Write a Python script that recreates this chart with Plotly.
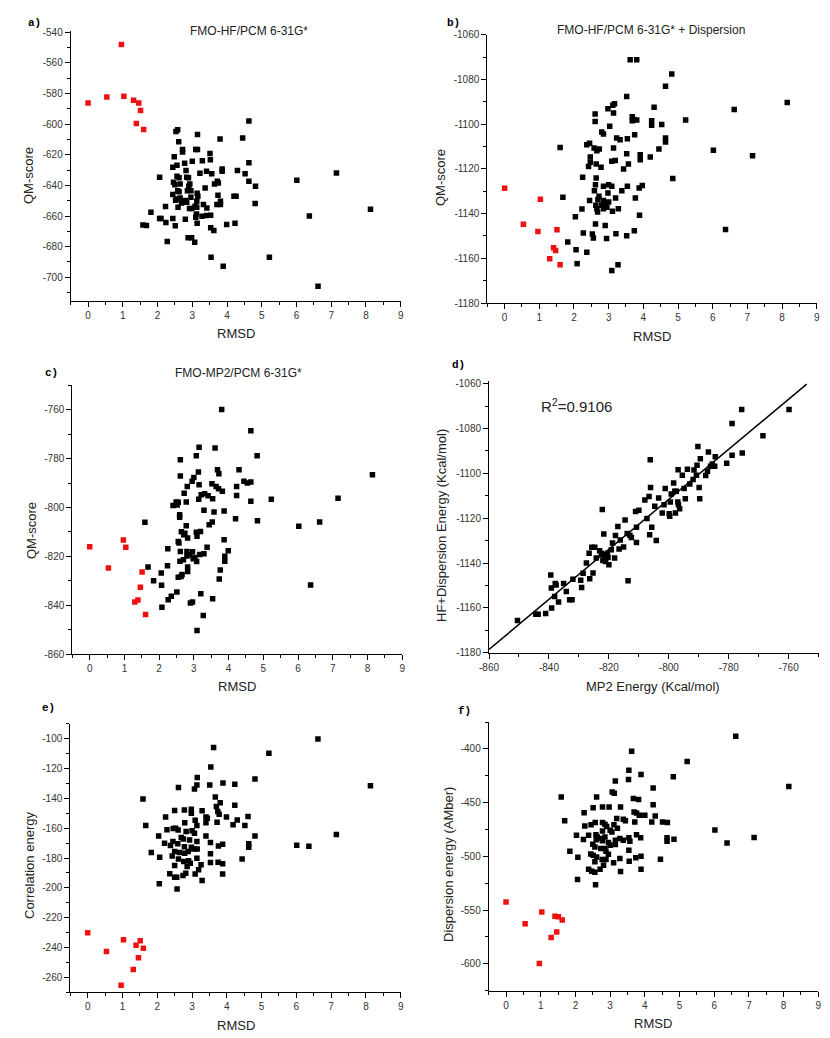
import numpy as np
import plotly.graph_objects as go

W, H = 830, 1038

# ---------------- data ----------------
a_black = [(4.63,-597.9),(2.53,-604.8),(2.58,-603.7),(3.15,-606.8),(2.61,-611.4),(3.80,-609.6),(4.45,-609.0),
    (2.72,-616.6),(2.72,-618.1),(3.10,-616.6),(3.15,-616.6),(2.48,-621.2),(3.51,-619.2),(3.52,-623.3),(3.00,-624.2),
    (3.29,-623.8),(4.63,-625.1),(2.44,-628.1),(2.56,-626.8),(2.78,-625.5),(2.82,-630.3),(3.86,-629.2),(3.86,-630.7),
    (4.30,-630.3),(3.22,-632.0),(3.41,-630.7),(3.56,-632.3),(4.52,-632.3),(7.15,-631.8),(2.56,-634.0),(2.62,-635.0),
    (2.06,-634.7),(2.84,-634.7),(2.89,-635.0),(4.63,-637.3),(6.01,-636.6),(3.72,-637.3),(3.75,-638.4),(2.46,-637.9),
    (2.50,-639.5),(2.65,-639.0),(2.93,-639.0),(2.90,-640.5),(3.37,-641.6),(3.64,-639.0),(4.82,-640.5),(2.58,-643.4),
    (2.62,-644.2),(2.86,-643.4),(2.96,-643.4),(2.44,-646.0),(3.14,-645.1),(3.16,-647.1),(3.74,-646.4),(4.20,-647.1),
    (4.26,-647.1),(2.55,-648.8),(2.65,-648.2),(2.80,-649.9),(2.96,-647.7),(3.13,-650.3),(3.81,-650.3),(3.81,-652.5),
    (3.71,-652.5),(4.81,-651.8),(2.52,-649.7),(2.69,-651.4),(2.84,-651.0),(2.77,-651.0),(3.32,-652.5),(3.08,-653.6),
    (3.13,-654.2),(2.59,-654.2),(3.42,-654.7),(2.23,-653.8),(2.92,-655.1),(2.98,-655.1),(3.28,-660.1),(3.41,-659.7),
    (3.53,-659.5),(3.12,-658.6),(3.10,-660.8),(1.81,-657.5),(2.06,-661.6),(2.10,-661.6),(2.44,-661.6),(2.80,-662.1),
    (2.24,-664.2),(3.14,-664.7),(3.99,-665.6),(4.23,-664.7),(1.58,-665.8),(1.68,-666.2),(2.51,-666.4),(3.53,-667.7),
    (3.62,-669.5),(6.37,-659.9),(8.13,-655.5),(2.28,-676.7),(2.88,-674.1),(2.98,-674.1),(3.07,-677.1),(3.54,-686.9),
    (5.22,-686.9),(3.89,-692.8),(6.62,-705.8)]
a_red = [(0.00,-586.1),(0.54,-582.2),(0.96,-548.0),(1.03,-581.8),(1.31,-584.4),(1.46,-586.1),(1.51,-591.1),
    (1.39,-599.6),(1.60,-603.5)]

b_black = [(3.62,-1071.2),(3.81,-1071.2),(4.82,-1077.6),(4.64,-1083.1),(3.52,-1087.6),(8.15,-1090.3),(4.31,-1092.5),
    (2.98,-1093.1),(3.12,-1091.6),(3.17,-1090.9),(3.14,-1095.0),(2.61,-1095.5),(6.62,-1093.5),(5.22,-1098.2),
    (2.61,-1098.8),(3.68,-1096.7),(3.72,-1097.9),(3.68,-1098.5),(3.81,-1098.1),(4.24,-1098.5),(4.24,-1100.5),
    (4.53,-1100.2),(3.03,-1101.0),(2.80,-1103.5),(2.85,-1104.4),(3.75,-1104.7),(3.23,-1106.2),(3.33,-1107.0),
    (3.54,-1106.5),(4.64,-1106.2),(4.64,-1108.0),(2.45,-1108.5),(2.37,-1109.2),(2.58,-1110.7),(2.73,-1111.1),
    (2.66,-1111.9),(3.14,-1110.7),(1.60,-1110.4),(4.45,-1111.1),(6.02,-1111.7),(7.15,-1114.1),(3.52,-1113.2),
    (3.91,-1113.7),(3.91,-1115.9),(4.20,-1114.7),(2.47,-1114.7),(2.47,-1117.0),(2.64,-1117.8),(3.09,-1116.6),
    (3.19,-1116.3),(3.57,-1117.8),(2.42,-1118.9),(2.78,-1119.3),(3.43,-1120.1),(2.25,-1123.8),(2.64,-1124.1),
    (4.85,-1124.3),(2.62,-1127.1),(3.00,-1127.1),(3.09,-1127.8),(2.85,-1127.8),(3.54,-1127.8),(3.97,-1127.4),
    (3.88,-1128.6),(2.59,-1129.8),(3.38,-1129.8),(2.98,-1130.8),(2.72,-1132.3),(2.69,-1133.8),(1.68,-1132.7),
    (3.20,-1133.0),(3.77,-1133.0),(2.45,-1134.1),(2.85,-1134.2),(2.90,-1135.5),(2.80,-1136.3),(2.88,-1137.0),
    (2.95,-1137.2),(2.63,-1136.3),(3.00,-1134.8),(2.85,-1137.8),(2.66,-1137.8),(2.23,-1138.0),(3.28,-1137.8),
    (3.11,-1139.0),(2.68,-1139.3),(2.04,-1141.4),(3.89,-1140.8),(2.62,-1144.7),(2.90,-1145.3),(6.37,-1147.1),
    (3.74,-1147.7),(2.27,-1148.7),(2.53,-1149.1),(2.56,-1150.9),(3.21,-1149.0),(3.52,-1149.9),(2.94,-1151.2),
    (1.82,-1152.7),(2.06,-1156.2),(2.37,-1157.3),(2.09,-1162.4),(3.27,-1162.9),(3.09,-1165.5)]
b_red = [(0.00,-1128.7),(0.54,-1144.8),(1.03,-1133.6),(0.96,-1148.0),(1.30,-1160.2),(1.41,-1155.3),(1.47,-1156.5),
    (1.51,-1147.2),(1.60,-1162.9)]

c_black = [(3.80,-759.9),(4.64,-768.6),(4.82,-778.8),(3.15,-775.4),(3.61,-775.7),(3.07,-778.8),(2.61,-780.5),
    (4.30,-784.6),(3.68,-784.6),(3.72,-786.2),(3.13,-785.5),(8.14,-786.6),(2.61,-787.1),(3.00,-787.7),(2.95,-789.3),
    (4.44,-789.3),(4.54,-790.0),(4.64,-789.6),(3.52,-790.3),(3.15,-790.7),(2.81,-791.4),(4.23,-791.4),(3.64,-791.4),
    (3.71,-792.4),(3.82,-793.4),(2.72,-794.2),(3.21,-794.8),(3.31,-794.4),(3.41,-795.2),(4.23,-795.1),(3.54,-796.4),
    (3.14,-796.6),(5.23,-796.6),(7.15,-796.2),(2.49,-797.8),(2.40,-799.2),(2.52,-799.0),(2.55,-797.9),(2.78,-797.8),
    (4.64,-797.5),(3.29,-801.2),(3.58,-801.9),(3.87,-801.5),(2.59,-803.0),(2.59,-804.0),(4.20,-804.6),(3.53,-806.0),
    (3.44,-807.1),(1.59,-806.1),(4.83,-805.4),(6.62,-806.0),(6.02,-807.7),(2.78,-807.5),(2.64,-810.0),(2.74,-810.6),
    (2.71,-811.2),(3.07,-810.2),(3.09,-811.8),(3.19,-809.8),(2.82,-812.5),(3.87,-813.2),(2.55,-813.9),(2.57,-814.6),
    (3.38,-816.3),(2.25,-816.9),(2.80,-818.0),(2.96,-818.1),(2.88,-819.4),(2.80,-819.9),(2.98,-821.0),(3.08,-822.1),
    (3.03,-820.5),(3.99,-817.7),(3.89,-820.0),(3.89,-822.0),(2.61,-818.0),(3.17,-819.3),(3.29,-819.0),(2.60,-822.0),
    (2.70,-821.4),(2.24,-823.9),(1.68,-824.4),(2.82,-824.4),(2.82,-826.2),(3.76,-825.6),(2.06,-826.8),(2.66,-827.5),
    (2.55,-828.6),(2.63,-828.3),(3.73,-829.3),(1.84,-830.0),(2.07,-831.9),(6.36,-831.8),(2.51,-834.6),(3.20,-835.3),
    (3.54,-837.4),(2.35,-836.4),(2.26,-837.8),(2.90,-839.1),(2.96,-838.7),(2.08,-840.9),(3.27,-844.2),(3.09,-850.4)]
c_red = [(0.00,-816.1),(0.54,-824.8),(0.97,-813.3),(1.04,-816.3),(1.51,-826.4),(1.46,-832.7),(1.30,-838.7),
    (1.39,-837.9),(1.61,-843.8)]

d_points = [(-850.5,-1165.6),(-844.4,-1162.8),(-843.6,-1162.8),(-841.1,-1162.5),(-839.1,-1160.1),(-839.4,-1145.4),
    (-839.2,-1151.2),(-837.9,-1149.1),(-837.6,-1149.8),(-838.1,-1154.9),(-836.8,-1157.4),(-835.1,-1149.1),
    (-834.2,-1152.7),(-833.1,-1156.4),(-832.3,-1156.4),(-832.0,-1147.2),(-829.4,-1147.7),(-829.1,-1150.9),
    (-828.6,-1144.6),(-827.5,-1140.0),(-826.4,-1147.0),(-826.6,-1135.7),(-825.3,-1144.5),(-825.7,-1133.0),
    (-824.7,-1133.0),(-824.2,-1137.8),(-823.1,-1134.5),(-822.5,-1135.6),(-822.2,-1116.1),(-822.0,-1136.4),
    (-821.4,-1137.8),(-820.9,-1137.1),(-820.5,-1135.6),(-822.0,-1138.9),(-821.1,-1139.3),(-820.3,-1137.5),
    (-821.7,-1127.1),(-820.0,-1140.8),(-819.2,-1134.1),(-818.1,-1137.8),(-818.8,-1131.1),(-817.8,-1127.7),
    (-817.0,-1123.7),(-816.6,-1133.8),(-816.2,-1129.7),(-815.1,-1132.9),(-814.6,-1120.8),(-813.6,-1147.9),
    (-813.9,-1126.8),(-813.0,-1127.6),(-812.5,-1128.6),(-811.1,-1117.0),(-810.0,-1116.5),(-810.8,-1130.8),
    (-810.8,-1124.0),(-808.0,-1111.9),(-807.3,-1120.2),(-806.4,-1127.4),(-806.2,-1093.9),(-806.1,-1106.3),
    (-806.6,-1110.3),(-805.7,-1124.1),(-804.7,-1114.7),(-804.2,-1130.0),(-803.4,-1111.0),(-802.2,-1117.7),
    (-801.6,-1114.0),(-801.2,-1106.8),(-799.9,-1118.0),(-799.7,-1119.2),(-799.5,-1112.8),(-799.2,-1109.2),
    (-798.4,-1104.3),(-798.0,-1108.0),(-797.8,-1117.7),(-797.5,-1108.0),(-796.9,-1098.4),(-797.0,-1112.8),
    (-796.8,-1114.0),(-796.4,-1115.8),(-795.5,-1100.9),(-794.9,-1106.8),(-794.5,-1111.3),(-793.8,-1098.2),
    (-793.0,-1104.8),(-791.9,-1102.8),(-791.6,-1098.5),(-790.8,-1100.9),(-790.6,-1096.4),(-790.3,-1088.0),
    (-789.9,-1106.3),(-789.7,-1111.3),(-789.5,-1093.5),(-787.7,-1101.0),(-787.1,-1099.1),(-786.8,-1090.5),
    (-786.1,-1096.9),(-785.5,-1095.8),(-784.7,-1096.9),(-784.5,-1092.6),(-780.7,-1095.5),(-778.9,-1092.0),
    (-778.9,-1077.8),(-775.7,-1071.5),(-775.5,-1090.9),(-768.6,-1083.2),(-759.9,-1071.5)]
d_fit_xrange = [-860, -754]
d_r2_text = "R<sup>2</sup>=0.9106"

e_black = [(6.62,-100.2),(5.21,-109.8),(3.62,-106.0),(3.54,-119.0),(3.15,-126.1),(4.81,-127.0),(3.14,-131.0),
    (3.07,-133.7),(2.61,-132.8),(3.51,-131.0),(3.89,-129.7),(4.23,-130.6),(8.13,-131.5),(1.59,-140.4),(3.67,-139.1),
    (3.81,-142.9),(4.23,-144.6),(2.50,-148.2),(2.78,-147.8),(2.98,-147.3),(2.98,-150.0),(3.29,-148.4),(3.70,-145.5),
    (3.74,-148.9),(3.78,-150.7),(2.24,-152.5),(3.40,-152.5),(3.44,-153.3),(3.99,-152.5),(4.61,-152.2),(4.30,-154.5),
    (3.09,-154.7),(3.40,-156.3),(3.72,-156.0),(2.79,-156.3),(1.67,-158.3),(3.14,-158.3),(4.18,-157.8),(4.52,-158.3),
    (2.28,-161.0),(2.46,-160.3),(2.60,-161.2),(2.53,-160.0),(2.83,-162.3),(3.00,-161.8),(3.07,-163.4),(2.04,-165.2),
    (3.40,-165.2),(4.81,-165.2),(7.15,-164.3),(2.69,-166.3),(2.75,-167.2),(2.93,-167.9),(3.14,-169.0),(3.53,-169.6),
    (2.45,-169.0),(2.21,-170.1),(2.59,-170.5),(2.98,-172.8),(3.05,-173.9),(4.63,-170.5),(4.63,-172.8),(6.01,-171.4),
    (6.36,-172.1),(3.76,-171.9),(3.88,-170.8),(2.38,-171.7),(2.78,-172.5),(3.15,-173.9),(2.50,-175.7),(2.64,-176.3),
    (2.89,-175.7),(2.79,-176.8),(1.83,-176.3),(2.43,-178.6),(3.53,-177.2),(2.07,-179.5),(2.61,-180.6),(3.14,-180.1),
    (4.44,-180.6),(2.90,-181.9),(2.95,-183.5),(2.76,-182.4),(3.53,-183.0),(3.75,-182.8),(3.88,-183.9),(3.26,-184.6),
    (2.50,-185.0),(2.86,-185.7),(3.19,-187.9),(2.36,-190.6),(2.82,-190.2),(3.09,-190.8),(3.88,-190.8),(2.50,-192.9),
    (2.56,-192.9),(2.74,-191.7),(3.29,-195.1),(2.06,-197.3),(2.57,-200.7)]
e_red = [(0.00,-230.1),(0.54,-242.6),(0.96,-265.2),(1.03,-234.8),(1.31,-254.7),(1.39,-238.4),(1.46,-246.9),
    (1.51,-235.5),(1.60,-240.4)]

f_black = [(6.62,-388.3),(3.62,-402.2),(5.22,-411.7),(3.54,-419.8),(3.89,-423.8),(4.82,-426.0),(3.53,-428.4),
    (3.15,-430.0),(3.06,-440.2),(3.12,-441.4),(4.24,-436.5),(8.15,-434.9),(1.59,-444.8),(2.61,-444.8),(3.67,-446.1),
    (3.82,-447.0),(4.24,-451.9),(2.51,-454.7),(2.78,-454.1),(2.97,-454.1),(3.30,-454.1),(2.25,-459.4),(3.69,-458.7),
    (3.76,-459.7),(3.84,-461.8),(4.00,-461.8),(4.30,-462.4),(3.19,-464.9),(3.38,-465.5),(3.44,-466.8),(1.69,-466.8),
    (2.57,-468.6),(2.78,-468.6),(2.85,-470.2),(3.11,-470.5),(3.71,-468.0),(4.20,-468.0),(4.51,-468.0),(4.65,-468.6),
    (2.45,-470.5),(2.27,-471.7),(2.90,-472.3),(3.21,-473.9),(3.00,-475.7),(3.05,-477.3),(2.78,-476.4),(6.02,-475.4),
    (2.38,-480.4),(2.03,-480.4),(2.59,-479.8),(3.76,-479.8),(7.15,-482.5),(2.63,-482.0),(2.73,-483.3),(2.85,-482.0),
    (2.60,-484.5),(2.78,-485.5),(3.28,-483.5),(3.54,-482.8),(3.88,-482.8),(3.15,-485.0),(3.15,-489.0),(4.64,-482.8),
    (4.64,-486.0),(4.84,-484.1),(2.23,-484.4),(6.37,-487.5),(2.95,-487.2),(3.00,-489.6),(2.50,-488.7),(2.56,-491.2),
    (3.38,-485.0),(3.57,-486.0),(2.73,-492.7),(2.85,-492.7),(2.88,-495.2),(1.84,-495.2),(3.54,-494.3),(2.44,-497.7),
    (2.51,-498.9),(2.95,-498.0),(2.61,-500.5),(3.89,-499.8),(3.74,-501.4),(2.07,-500.8),(3.28,-502.0),(2.77,-502.9),
    (2.88,-502.9),(4.45,-502.6),(2.56,-505.1),(3.55,-504.5),(3.10,-506.0),(2.81,-508.2),(3.89,-511.9),(2.38,-511.9),
    (2.47,-513.8),(2.71,-511.9),(2.56,-514.7),(3.30,-514.1),(2.06,-521.5),(2.58,-526.4)]
f_red = [(0.00,-542.5),(0.55,-562.6),(0.96,-599.7),(1.03,-551.8),(1.30,-575.6),(1.41,-555.8),(1.51,-556.1),
    (1.46,-570.3),(1.62,-559.2)]

rmsd_ticks = list(range(0, 10))
a_yticks = [-700, -680, -660, -640, -620, -600, -580, -560, -540]
b_yticks = [-1180, -1160, -1140, -1120, -1100, -1080, -1060]
c_yticks = [-860, -840, -820, -800, -780, -760]
d_xticks = [-860, -840, -820, -800, -780, -760]
d_yticks = [-1180, -1160, -1140, -1120, -1100, -1080, -1060]
e_yticks = [-260, -240, -220, -200, -180, -160, -140, -120, -100]
f_yticks = [-600, -550, -500, -450, -400]

# ---------------- layout helpers ----------------
FONT = "Liberation Sans, Arial, sans-serif"
BLACK = "#000000"
RED = "#ee1111"


def xs(p):
    return [v[0] for v in p]


def ys(p):
    return [v[1] for v in p]


def dom_x(x0, x1):
    return [x0 / W, x1 / W]


def dom_y(y0, y1):
    return [1 - y1 / H, 1 - y0 / H]


def label(v):
    return ("%g" % v)  # keeps ASCII hyphen-minus like the reference


def axis(domain, rng, tickvals, minor_dtick, anchor):
    return dict(domain=domain, range=rng, anchor=anchor, showline=True, linecolor="black", linewidth=1,
                mirror=False, ticks="outside", ticklen=5, tickwidth=1, tickcolor="black",
                showgrid=False, zeroline=False, automargin=False,
                tickmode="array", tickvals=tickvals, ticktext=[label(v) for v in tickvals],
                tickfont=dict(family=FONT, size=10, color="#333"),
                minor=dict(ticks="outside", ticklen=3, tickwidth=1, tickcolor="black",
                           dtick=minor_dtick, tick0=tickvals[0], showgrid=False))


panels = [
    # suffix, x-dom px, y-dom px, xrange, yrange, xticks, x minor, yticks, y minor
    ("", (62.7, 392.7), (23.3, 293.3), [-0.5, 9], [-715.7, -539.3], rmsd_ticks, 0.5, a_yticks, 10),
    ("2", (479.3, 808.7), (26.7, 295.0), [-0.5, 9], [-1180, -1060], rmsd_ticks, 0.5, b_yticks, 10),
    ("3", (64.3, 394.3), (377.3, 646.0), [-0.5, 9], [-860, -750], rmsd_ticks, 0.5, c_yticks, 10),
    ("4", (481.0, 810.7), (372.7, 644.7), [-860, -750], [-1180, -1058.7], d_xticks, 10, d_yticks, 10),
    ("5", (62.3, 392.7), (715.7, 984.3), [-0.5, 9], [-270, -90], rmsd_ticks, 0.5, e_yticks, 10),
    ("6", (480.7, 810.3), (714.0, 982.7), [-0.5, 9], [-625, -375], rmsd_ticks, 0.5, f_yticks, 25),
]

fig = go.Figure()
layout = dict(width=W, height=H, margin=dict(l=0, r=0, t=0, b=0), paper_bgcolor="white",
              plot_bgcolor="white", showlegend=False, template="none")

for (sfx, xd, yd, xr, yr, xt, xmn, yt, ymn) in panels:
    layout["xaxis" + sfx] = axis(dom_x(*xd), xr, xt, xmn, "y" + sfx)
    layout["yaxis" + sfx] = axis(dom_y(*yd), yr, yt, ymn, "x" + sfx)

marker_black = dict(symbol="square", size=5.5, color=BLACK, line=dict(width=0))
marker_red = dict(symbol="square", size=5.5, color=RED, line=dict(width=0))

scatter_sets = [("", a_black, a_red), ("2", b_black, b_red), ("3", c_black, c_red),
                ("5", e_black, e_red), ("6", f_black, f_red)]
for sfx, blk, red in scatter_sets:
    fig.add_trace(go.Scatter(x=xs(blk), y=ys(blk), mode="markers", marker=marker_black,
                             xaxis="x" + sfx, yaxis="y" + sfx, hoverinfo="x+y"))
    fig.add_trace(go.Scatter(x=xs(red), y=ys(red), mode="markers", marker=marker_red,
                             xaxis="x" + sfx, yaxis="y" + sfx, hoverinfo="x+y"))

# panel d: scatter + linear fit
dx, dy = np.array(xs(d_points)), np.array(ys(d_points))
slope, intercept = np.polyfit(dx, dy, 1)
fit_x = np.array(d_fit_xrange, dtype=float)
fig.add_trace(go.Scatter(x=fit_x, y=slope * fit_x + intercept, mode="lines",
                         line=dict(color="black", width=1.5), xaxis="x4", yaxis="y4", hoverinfo="skip"))
fig.add_trace(go.Scatter(x=dx, y=dy, mode="markers", marker=marker_black, xaxis="x4", yaxis="y4",
                         hoverinfo="x+y"))

# ---------------- text ----------------
ann = []


def text(px, py, s, size=12, angle=0, family=FONT, bold=False, color="#222"):
    ann.append(dict(x=px / W, y=1 - py / H, xref="paper", yref="paper", text=("<b>%s</b>" % s) if bold else s,
                    showarrow=False, textangle=angle, xanchor="center", yanchor="middle",
                    font=dict(family=family, size=size, color=color)))


MONO = "Liberation Mono, Courier New, monospace"
text(26, 15, "a)", 11, family=MONO, bold=True, color="#000")
text(445, 15, "b)", 11, family=MONO, bold=True, color="#000")
text(43, 365, "c)", 11, family=MONO, bold=True, color="#000")
text(450, 357, "d)", 11, family=MONO, bold=True, color="#000")
text(40, 700, "e)", 11, family=MONO, bold=True, color="#000")
text(456, 703, "f)", 11, family=MONO, bold=True, color="#000")

text(241, 23, "FMO-HF/PCM 6-31G*", 12)
text(643, 22, "FMO-HF/PCM 6-31G* + Dispersion", 12)
text(230, 365, "FMO-MP2/PCM 6-31G*", 12)
text(568, 397, d_r2_text, 15)

text(228, 325, "RMSD", 13)
text(644, 328, "RMSD", 13)
text(229, 678, "RMSD", 13)
text(645, 678, "MP2 Energy (Kcal/mol)", 13)
text(228, 1017, "RMSD", 13)
text(645, 1015, "RMSD", 13)

text(20, 168, "QM-score", 13, angle=-90)
text(433, 170, "QM-score", 13, angle=-90)
text(23, 523, "QM-score", 13, angle=-90)
text(433, 518, "HF+Dispersion Energy (Kcal/mol)", 13, angle=-90)
text(21, 858, "Correlation energy", 13, angle=-90)
text(440, 857, "Dispersion energy (AMber)", 13, angle=-90)

layout["annotations"] = ann
fig.update_layout(**layout)
fig.write_html("out.html")
